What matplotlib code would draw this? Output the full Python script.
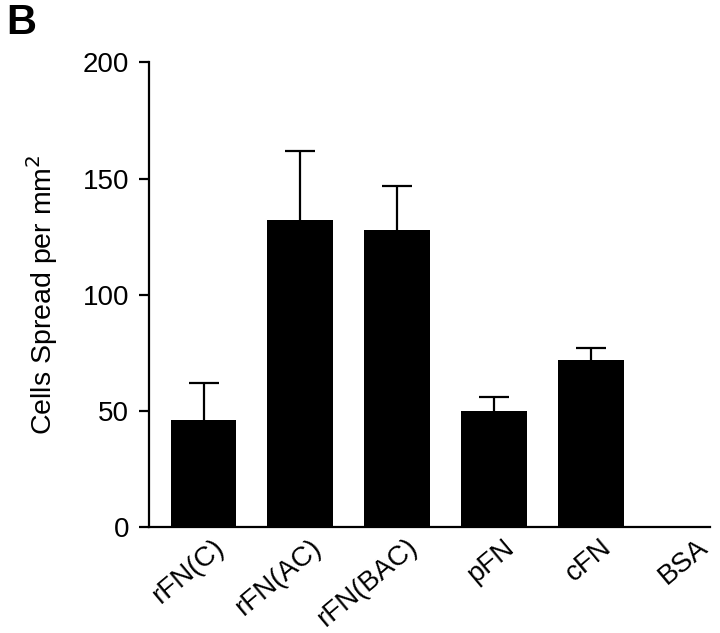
import matplotlib
matplotlib.use("Agg")
import matplotlib.pyplot as plt
import matplotlib.transforms as mtransforms
import numpy as np

categories = ["rFN(C)", "rFN(AC)", "rFN(BAC)", "pFN", "cFN", "BSA"]
means = [46, 132, 128, 50, 72, 0]
errors = [16, 30, 19, 6, 5, 0]
yticks = [0, 50, 100, 150, 200]

plt.rcParams['font.family'] = ['Liberation Sans', 'DejaVu Sans']

fig = plt.figure(figsize=(7.2, 6.33), dpi=100)
ax = fig.add_axes([0.2074, 0.167, 0.986 - 0.2074, 0.9016 - 0.167])

x = np.arange(len(categories))
ax.bar(x, means, width=0.68, color='black', zorder=2)

idx = [i for i, e in enumerate(errors) if e > 0]
m_sub = np.array(means)[idx]
_, caplines, _ = ax.errorbar(x[idx], m_sub,
                             yerr=[np.zeros(len(idx)), np.array(errors)[idx]],
                             fmt='none', ecolor='black', elinewidth=1.6,
                             capsize=10.8, capthick=1.6, zorder=1)
for cl in caplines:
    if np.allclose(cl.get_ydata(), m_sub):
        cl.set_visible(False)

ax.set_xlim(-0.56, 5.23)
ax.set_ylim(0, 200)
ax.set_yticks(yticks)
ax.set_yticklabels([str(t) for t in yticks], fontsize=20)
ax.set_xticks(x)
ax.set_xticklabels(categories, fontsize=20, rotation=40, ha='right',
                   rotation_mode='anchor')
ax.tick_params(axis='x', length=0, pad=5)
ax.tick_params(axis='y', length=7.2, width=1.6, pad=7.5)

offset = mtransforms.ScaledTranslation(0.09, 0, fig.dpi_scale_trans)
for lbl in ax.get_xticklabels():
    lbl.set_transform(lbl.get_transform() + offset)

for s in ['top', 'right']:
    ax.spines[s].set_visible(False)
for s in ['left', 'bottom']:
    ax.spines[s].set_linewidth(1.6)

ax.set_ylabel("Cells Spread per mm$^2$", fontsize=20.5, labelpad=16)

fig.text(0.008, 0.995, "B", fontsize=30, fontweight='bold', va='top', ha='left')

fig.savefig("out.png", dpi=100)
